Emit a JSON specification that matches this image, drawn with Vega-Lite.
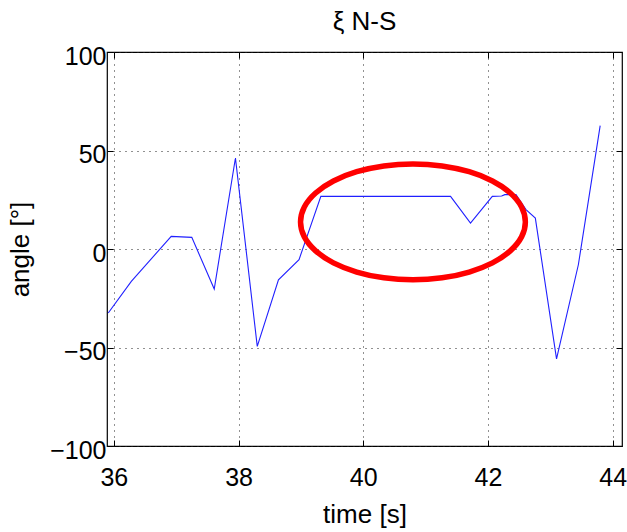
{
  "$schema": "https://vega.github.io/schema/vega-lite/v6.json",
  "autosize": "none",
  "width": 515,
  "height": 394,
  "padding": {"left": 107, "top": 52, "right": 5, "bottom": 86},
  "background": "white",
  "title": {"text": "ξ N-S", "font": "Liberation Sans", "fontSize": 26, "fontWeight": "normal", "color": "black", "offset": 9},
  "config": {
    "view": {"stroke": "black", "strokeWidth": 1.2},
    "axis": {
      "labelFont": "Liberation Sans", "labelFontSize": 25, "labelColor": "black",
      "titleFont": "Liberation Sans", "titleFontSize": 26, "titleFontWeight": "normal", "titleColor": "black",
      "domain": false, "tickColor": "black", "tickSize": -6, "tickWidth": 1,
      "grid": true, "gridColor": "#222222", "gridDash": [1, 5], "gridWidth": 1, "gridOpacity": 1
    }
  },
  "datasets": {
    "series": [
      {"time": 35.91, "angle": -32.5},
      {"time": 36.28, "angle": -16.4},
      {"time": 36.92, "angle": 6.4},
      {"time": 37.25, "angle": 5.9},
      {"time": 37.61, "angle": -20.3},
      {"time": 37.95, "angle": 46.2},
      {"time": 38.30, "angle": -49.4},
      {"time": 38.64, "angle": -15.6},
      {"time": 38.97, "angle": -5.4},
      {"time": 39.32, "angle": 26.7},
      {"time": 41.40, "angle": 26.7},
      {"time": 41.72, "angle": 13.2},
      {"time": 42.07, "angle": 26.7},
      {"time": 42.22, "angle": 26.9},
      {"time": 42.27, "angle": 27.6},
      {"time": 42.45, "angle": 27.6},
      {"time": 42.61, "angle": 20.0},
      {"time": 42.76, "angle": 15.7},
      {"time": 43.10, "angle": -55.8},
      {"time": 43.45, "angle": -8.0},
      {"time": 43.80, "angle": 62.6}
    ],
    "ellipse": [
      {"k": 0, "time": 42.600, "angle": 13.76},
      {"k": 1, "time": 42.539, "angle": 21.37},
      {"k": 2, "time": 42.358, "angle": 28.46},
      {"k": 3, "time": 42.072, "angle": 34.55},
      {"k": 4, "time": 41.699, "angle": 39.22},
      {"k": 5, "time": 41.264, "angle": 42.16},
      {"k": 6, "time": 40.797, "angle": 43.16},
      {"k": 7, "time": 40.330, "angle": 42.16},
      {"k": 8, "time": 39.896, "angle": 39.22},
      {"k": 9, "time": 39.522, "angle": 34.55},
      {"k": 10, "time": 39.236, "angle": 28.46},
      {"k": 11, "time": 39.055, "angle": 21.37},
      {"k": 12, "time": 38.994, "angle": 13.76},
      {"k": 13, "time": 39.055, "angle": 6.15},
      {"k": 14, "time": 39.236, "angle": -0.94},
      {"k": 15, "time": 39.522, "angle": -7.03},
      {"k": 16, "time": 39.896, "angle": -11.70},
      {"k": 17, "time": 40.330, "angle": -14.64},
      {"k": 18, "time": 40.797, "angle": -15.64},
      {"k": 19, "time": 41.264, "angle": -14.64},
      {"k": 20, "time": 41.699, "angle": -11.70},
      {"k": 21, "time": 42.072, "angle": -7.03},
      {"k": 22, "time": 42.358, "angle": -0.94},
      {"k": 23, "time": 42.539, "angle": 6.15}
    ]
  },
  "layer": [
    {
      "data": {"name": "series"},
      "mark": {"type": "line", "color": "#2020ff", "strokeWidth": 1.1},
      "encoding": {
        "x": {"field": "time", "type": "quantitative",
              "scale": {"domain": [35.89, 44.15], "nice": false, "zero": false},
              "axis": {"title": "time [s]", "values": [36, 38, 40, 42, 44], "labelPadding": 25, "titlePadding": 11}},
        "y": {"field": "angle", "type": "quantitative",
              "scale": {"domain": [-100, 100], "nice": false},
              "axis": {"title": "angle [°]", "values": [-100, -50, 0, 50, 100], "labelPadding": 7, "labelOffset": 4, "titlePadding": 16}}
      }
    },
    {
      "data": {"name": "ellipse"},
      "mark": {"type": "line", "color": "#ff0000", "strokeWidth": 5.5, "interpolate": "cardinal-closed"},
      "encoding": {
        "x": {"field": "time", "type": "quantitative",
              "scale": {"domain": [35.89, 44.15], "nice": false, "zero": false},
              "axis": {"orient": "top", "title": null, "labels": false, "grid": false, "values": [36, 38, 40, 42, 44]}},
        "y": {"field": "angle", "type": "quantitative",
              "scale": {"domain": [-100, 100], "nice": false},
              "axis": {"orient": "right", "title": null, "labels": false, "grid": false, "values": [-100, -50, 0, 50, 100]}},
        "order": {"field": "k", "type": "quantitative"}
      }
    }
  ],
  "resolve": {"axis": {"x": "independent", "y": "independent"}}
}
